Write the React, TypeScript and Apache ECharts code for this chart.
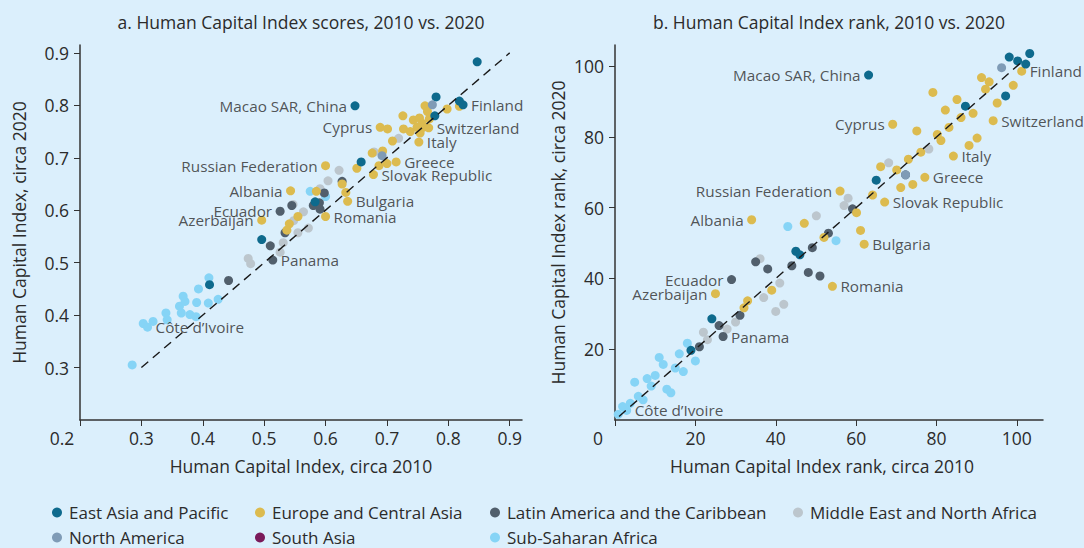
import React, { useEffect, useRef } from "react";
import * as echarts from "echarts";

const FONT = '"Open Sans", "Noto Sans", sans-serif';
const TEXT = "#2b2b2b";
const BIG = 17.5;
const LEG = 17;
const LABEL = 15.3;

const regionNames = [
  "East Asia and Pacific",
  "Europe and Central Asia",
  "Latin America and the Caribbean",
  "Middle East and North Africa",
  "North America",
  "South Asia",
  "Sub-Saharan Africa",
];
const regionColors = ["#0e6a8d", "#dcbb4f", "#515f6c", "#bcc6cd", "#7f9bb6", "#7a1a5a", "#86d4f6"];

// Panel a: HCI scores [circa 2010, circa 2020]
const eapScores = [[0.847, 0.883], [0.648, 0.799], [0.78, 0.816], [0.818, 0.808], [0.824, 0.801], [0.778, 0.78], [0.658, 0.692], [0.496, 0.544], [0.411, 0.458], [0.583, 0.616]];
const ecaScores = [[0.798, 0.793], [0.818, 0.798], [0.762, 0.799], [0.766, 0.788], [0.726, 0.78], [0.769, 0.774], [0.743, 0.772], [0.753, 0.776], [0.757, 0.766], [0.749, 0.758], [0.727, 0.755], [0.738, 0.75], [0.759, 0.758], [0.768, 0.757], [0.689, 0.758], [0.701, 0.755], [0.754, 0.747], [0.709, 0.732], [0.752, 0.73], [0.676, 0.709], [0.693, 0.713], [0.651, 0.68], [0.687, 0.685], [0.7, 0.689], [0.715, 0.692], [0.678, 0.668], [0.6, 0.685], [0.627, 0.65], [0.633, 0.634], [0.636, 0.617], [0.6, 0.588], [0.543, 0.637], [0.496, 0.581], [0.555, 0.588], [0.541, 0.574], [0.537, 0.562], [0.585, 0.636]];
const lacScores = [[0.526, 0.598], [0.545, 0.609], [0.627, 0.655], [0.598, 0.633], [0.59, 0.614], [0.58, 0.609], [0.591, 0.602], [0.534, 0.557], [0.51, 0.532], [0.514, 0.505], [0.442, 0.466]];
const menaScores = [[0.719, 0.737], [0.679, 0.711], [0.622, 0.676], [0.604, 0.656], [0.591, 0.641], [0.547, 0.611], [0.564, 0.597], [0.548, 0.58], [0.572, 0.566], [0.555, 0.557], [0.531, 0.538], [0.526, 0.52], [0.474, 0.508], [0.478, 0.498]];
const naScores = [[0.774, 0.801], [0.692, 0.704]];
const saScores: number[][] = [];
const ssaScores = [[0.285, 0.305], [0.303, 0.384], [0.31, 0.377], [0.319, 0.388], [0.34, 0.404], [0.342, 0.391], [0.365, 0.404], [0.362, 0.417], [0.368, 0.436], [0.371, 0.426], [0.379, 0.401], [0.389, 0.397], [0.39, 0.424], [0.393, 0.45], [0.409, 0.423], [0.41, 0.471], [0.425, 0.43], [0.575, 0.636], [0.6, 0.626]];

// Panel b: HCI ranks [circa 2010, circa 2020]
const eapRanks = [[98.1, 102.6], [100.2, 101.5], [103.2, 103.6], [102.2, 100.6], [97.2, 91.6], [87.2, 88.7], [63.1, 97.5], [65.0, 67.8], [45.0, 47.7], [46.0, 46.7], [24.1, 28.6], [18.9, 19.7]];
const ecaRanks = [[101.2, 98.6], [91.2, 96.8], [93.1, 95.6], [92.2, 93.5], [99.1, 94.6], [95.1, 89.6], [79.1, 92.6], [85.1, 90.6], [82.2, 87.6], [89.1, 86.7], [86.1, 85.5], [94.1, 84.6], [69.1, 83.6], [75.1, 81.7], [83.1, 82.7], [80.2, 80.7], [90.1, 79.7], [81.1, 79.0], [88.1, 77.6], [76.1, 75.7], [84.2, 74.6], [73.0, 73.7], [66.1, 71.6], [70.1, 70.7], [77.1, 68.6], [74.1, 66.6], [71.1, 65.7], [64.1, 63.6], [67.1, 61.6], [56.0, 64.7], [60.1, 58.6], [47.1, 55.6], [34.0, 56.6], [61.1, 53.6], [52.0, 51.6], [62.0, 49.7], [54.1, 37.8], [25.0, 35.7], [39.0, 36.7], [33.0, 33.7], [32.1, 31.7]];
const lacRanks = [[72.3, 69.3], [59.1, 59.7], [53.1, 52.8], [49.1, 48.7], [44.0, 43.6], [48.1, 41.7], [51.0, 40.7], [35.0, 44.7], [38.0, 42.7], [29.0, 39.7], [31.1, 29.6], [25.9, 26.7], [21.0, 20.7], [26.9, 23.6]];
const menaRanks = [[58.0, 62.7], [57.0, 60.6], [50.1, 57.7], [68.1, 72.7], [78.1, 76.6], [36.1, 45.6], [41.0, 38.7], [37.0, 34.6], [40.0, 30.7], [42.0, 32.7], [30.0, 27.7], [27.9, 25.7], [22.0, 24.8], [23.0, 22.7]];
const naRanks = [[96.2, 99.6], [72.3, 69.3]];
const saRanks: number[][] = [];
const ssaRanks = [[18.0, 21.7], [16.0, 18.7], [20.0, 16.7], [11.0, 17.7], [12.0, 15.7], [15.0, 14.7], [17.0, 13.7], [4.9, 10.7], [8.0, 11.7], [10.0, 12.6], [9.0, 9.6], [12.9, 8.7], [13.9, 7.7], [5.8, 6.7], [7.0, 5.7], [3.8, 4.7], [1.9, 3.8], [2.9, 2.7], [0.8, 1.6], [43.0, 54.7], [55.0, 50.7]];

// Labelled countries: [name, x, y, side]
const scoreLabels: [string, number, number, string][] = [
  ["Macao SAR, China", 0.648, 0.799, "left"],
  ["Finland", 0.824, 0.801, "right"],
  ["Cyprus", 0.689, 0.758, "left"],
  ["Switzerland", 0.768, 0.757, "right"],
  ["Italy", 0.752, 0.73, "right"],
  ["Greece", 0.715, 0.692, "right"],
  ["Slovak Republic", 0.678, 0.668, "right"],
  ["Russian Federation", 0.6, 0.685, "left"],
  ["Albania", 0.543, 0.637, "left"],
  ["Ecuador", 0.526, 0.598, "left"],
  ["Azerbaijan", 0.496, 0.581, "left"],
  ["Bulgaria", 0.636, 0.617, "right"],
  ["Romania", 0.6, 0.588, "right"],
  ["Panama", 0.514, 0.505, "right"],
  ["Côte d’Ivoire", 0.31, 0.377, "right"],
];
const rankLabels: [string, number, number, string][] = [
  ["Macao SAR, China", 63.1, 97.5, "left"],
  ["Finland", 101.2, 98.6, "right"],
  ["Cyprus", 69.1, 83.6, "left"],
  ["Switzerland", 94.1, 84.6, "right"],
  ["Italy", 84.2, 74.6, "right"],
  ["Greece", 77.1, 68.6, "right"],
  ["Slovak Republic", 67.1, 61.6, "right"],
  ["Russian Federation", 56.0, 64.7, "left"],
  ["Albania", 34.0, 56.6, "left"],
  ["Bulgaria", 62.0, 49.7, "right"],
  ["Ecuador", 29.0, 39.7, "left"],
  ["Azerbaijan", 25.0, 35.7, "left"],
  ["Romania", 54.1, 37.8, "right"],
  ["Panama", 26.9, 23.6, "right"],
  ["Côte d’Ivoire", 2.9, 2.7, "right"],
];

const scoreDiagonal = [[0.3, 0.3], [0.9, 0.9]];
const rankDiagonal = [[1, 1], [101, 101]];

const scoreTicks = [0.2, 0.3, 0.4, 0.5, 0.6, 0.7, 0.8, 0.9];
const scoreTickLabels = [0.3, 0.4, 0.5, 0.6, 0.7, 0.8, 0.9];
const rankTicks = [0, 20, 40, 60, 80, 100];
const rankTickLabels = [20, 40, 60, 80, 100];

const scoreSets = [eapScores, ecaScores, lacScores, menaScores, naScores, saScores, ssaScores];
const rankSets = [eapRanks, ecaRanks, lacRanks, menaRanks, naRanks, saRanks, ssaRanks];
const drawOrder = [6, 3, 2, 1, 0, 4, 5];

// legend grid placement (icon left edge, row top) per region index
const legendSlots = [
  [52, 504], [255, 504], [490, 504], [793, 504],
  [52, 529], [255, 529], [490, 529],
];

function axisCommon() {
  return {
    type: "value" as const,
    axisLine: { show: true, lineStyle: { color: "#333", width: 1.5 } },
    splitLine: { show: false },
    nameLocation: "middle" as const,
    nameTextStyle: { fontSize: BIG, color: TEXT, fontFamily: FONT },
  };
}

function buildOption() {
  const series: any[] = [];
  [0, 1].forEach((g) => {
    const sets = g === 0 ? scoreSets : rankSets;
    drawOrder.forEach((i) => {
      series.push({
        type: "scatter",
        name: regionNames[i],
        xAxisIndex: g,
        yAxisIndex: g,
        symbol: "circle",
        symbolSize: 9,
        itemStyle: { color: regionColors[i], opacity: 1 },
        data: sets[i],
        z: 2,
      });
    });
    series.push({
      type: "line",
      xAxisIndex: g,
      yAxisIndex: g,
      data: g === 0 ? scoreDiagonal : rankDiagonal,
      symbol: "none",
      lineStyle: { color: "#1a1a1a", width: 1.4, type: [9, 6] },
      z: 3,
      silent: true,
    });
    const labs = g === 0 ? scoreLabels : rankLabels;
    series.push({
      type: "scatter",
      xAxisIndex: g,
      yAxisIndex: g,
      symbolSize: 0,
      z: 4,
      silent: true,
      data: labs.map((l) => ({
        name: l[0],
        value: [l[1], l[2]],
        label: {
          show: true,
          position: l[3],
          distance: 8,
          formatter: "{b}",
          fontSize: LABEL,
          lineHeight: 14,
          color: TEXT,
          fontFamily: FONT,
        },
      })),
    });
  });

  return {
    animation: false,
    backgroundColor: "#dbeffc",
    textStyle: { fontFamily: FONT },
    grid: [
      { left: 80, top: 45, width: 442, height: 375 },
      { left: 615, top: 45, width: 428, height: 375 },
    ],
    xAxis: [
      {
        ...axisCommon(),
        gridIndex: 0,
        min: 0.2,
        max: 0.92,
        name: "Human Capital Index, circa 2010",
        nameGap: 37,
        axisTick: { show: true, length: 6, customValues: scoreTicks, lineStyle: { color: "#333" } },
        axisLabel: { customValues: scoreTickLabels, formatter: (v: number) => v.toFixed(1), fontSize: BIG, color: TEXT, margin: 9, fontFamily: FONT },
      },
      {
        ...axisCommon(),
        gridIndex: 1,
        min: 0,
        max: 106.5,
        name: "Human Capital Index rank, circa 2010",
        nameGap: 37,
        nameTextStyle: { fontSize: BIG, color: TEXT, fontFamily: FONT, padding: [0, 14, 0, 0] },
        axisTick: { show: true, length: 6, customValues: rankTicks, lineStyle: { color: "#333" } },
        axisLabel: { customValues: rankTickLabels, formatter: (v: number) => String(Math.round(v)), fontSize: BIG, color: TEXT, margin: 9, fontFamily: FONT },
      },
    ],
    yAxis: [
      {
        ...axisCommon(),
        gridIndex: 0,
        min: 0.2,
        max: 0.915,
        name: "Human Capital Index, circa 2020",
        nameGap: 52,
        axisTick: { show: true, length: 6, customValues: scoreTickLabels, lineStyle: { color: "#333" } },
        axisLabel: { customValues: scoreTickLabels, formatter: (v: number) => v.toFixed(1), fontSize: BIG, color: TEXT, margin: 11, fontFamily: FONT },
      },
      {
        ...axisCommon(),
        gridIndex: 1,
        min: 0,
        max: 106,
        name: "Human Capital Index rank, circa 2020",
        nameGap: 48,
        axisTick: { show: true, length: 6, customValues: rankTickLabels, lineStyle: { color: "#333" } },
        axisLabel: { customValues: rankTickLabels, formatter: (v: number) => String(Math.round(v)), fontSize: BIG, color: TEXT, margin: 11, fontFamily: FONT },
      },
    ],
    legend: regionNames.map((n, i) => ({
      orient: "horizontal",
      left: legendSlots[i][0],
      top: legendSlots[i][1],
      padding: 0,
      itemWidth: 10,
      itemHeight: 10,
      icon: "circle",
      selectedMode: false,
      data: [n],
      textStyle: { fontSize: LEG, color: TEXT, fontFamily: FONT, lineHeight: 16, padding: [0, 0, 0, 2] },
    })),
    graphic: [
      { type: "text", x: 301, y: 22, style: { text: "a. Human Capital Index scores, 2010 vs. 2020", align: "center", verticalAlign: "middle", fontSize: BIG, fontFamily: FONT, fill: TEXT } },
      { type: "text", x: 829, y: 22, style: { text: "b. Human Capital Index rank, 2010 vs. 2020", align: "center", verticalAlign: "middle", fontSize: BIG, fontFamily: FONT, fill: TEXT } },
      { type: "text", x: 62, y: 438, style: { text: "0.2", align: "center", verticalAlign: "middle", fontSize: BIG, fontFamily: FONT, fill: TEXT } },
      { type: "text", x: 598, y: 438, style: { text: "0", align: "center", verticalAlign: "middle", fontSize: BIG, fontFamily: FONT, fill: TEXT } },
    ],
    series,
  };
}

export default function App() {
  const ref = useRef<HTMLDivElement>(null);
  useEffect(() => {
    if (!ref.current) return;
    const chart = echarts.init(ref.current, null, { renderer: "svg" });
    chart.setOption(buildOption() as any);
    return () => chart.dispose();
  }, []);
  return <div ref={ref} style={{ position: "absolute", left: 0, top: 0, width: 1084, height: 548 }} />;
}
